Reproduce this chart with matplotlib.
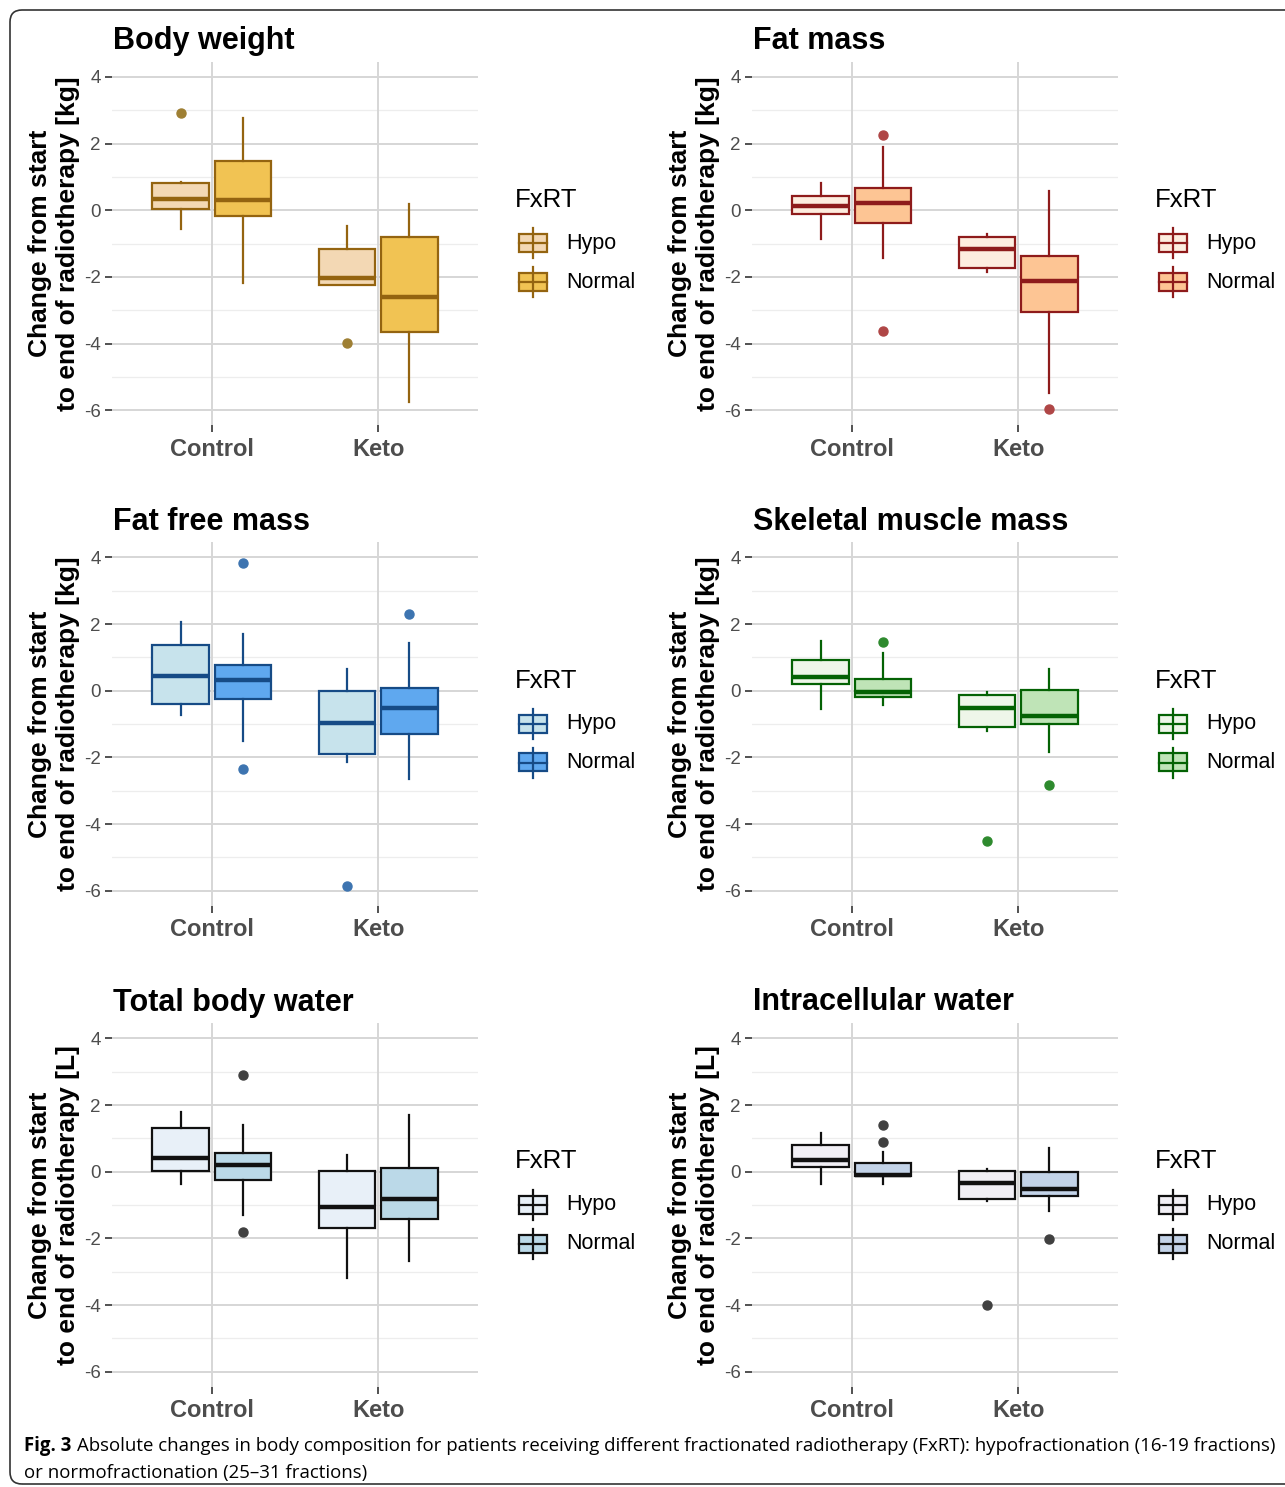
import matplotlib
matplotlib.use("Agg")
import matplotlib.pyplot as plt
from matplotlib.patches import Rectangle, FancyBboxPatch
from matplotlib.lines import Line2D
from matplotlib.transforms import IdentityTransform

plt.rcParams['font.family'] = ['Liberation Sans', 'DejaVu Sans']
plt.rcParams['axes.unicode_minus'] = False

# ---------------- data ----------------
groups = ["Control", "Keto"]
fxrt = ["Hypo", "Normal"]
# order of boxes: Control-Hypo, Control-Normal, Keto-Hypo, Keto-Normal

bw_low = [-0.55, -2.17, -2.23, -5.75]
bw_q1 = [0.03, -0.16, -2.23, -3.65]
bw_med = [0.33, 0.30, -2.04, -2.60]
bw_q3 = [0.82, 1.49, -1.16, -0.80]
bw_high = [0.85, 2.77, -0.48, 0.18]
bw_out = [[2.93], [], [-3.97], []]

fm_low = [-0.85, -1.44, -1.85, -5.47]
fm_q1 = [-0.10, -0.38, -1.74, -3.05]
fm_med = [0.13, 0.23, -1.17, -2.11]
fm_q3 = [0.42, 0.68, -0.80, -1.37]
fm_high = [0.82, 1.90, -0.70, 0.59]
fm_out = [[], [2.25, -3.63], [], [-5.95]]

ffm_low = [-0.73, -1.51, -2.15, -2.65]
ffm_q1 = [-0.40, -0.26, -1.89, -1.30]
ffm_med = [0.45, 0.32, -0.98, -0.51]
ffm_q3 = [1.37, 0.78, -0.01, 0.09]
ffm_high = [2.05, 1.70, 0.66, 1.42]
ffm_out = [[], [3.84, -2.36], [-5.86], [2.30]]

smm_low = [-0.56, -0.43, -1.20, -1.83]
smm_q1 = [0.20, -0.18, -1.08, -1.01]
smm_med = [0.42, -0.05, -0.51, -0.75]
smm_q3 = [0.91, 0.36, -0.14, 0.01]
smm_high = [1.48, 1.12, -0.05, 0.66]
smm_out = [[], [1.46], [-4.51], [-2.83]]

tbw_low = [-0.38, -1.29, -3.18, -2.68]
tbw_q1 = [0.02, -0.25, -1.68, -1.41]
tbw_med = [0.40, 0.20, -1.05, -0.82]
tbw_q3 = [1.30, 0.55, 0.02, 0.10]
tbw_high = [1.79, 1.39, 0.50, 1.69]
tbw_out = [[], [2.89, -1.80], [], []]

icw_low = [-0.38, -0.38, -0.89, -1.19]
icw_q1 = [0.14, -0.14, -0.81, -0.74]
icw_med = [0.35, -0.09, -0.35, -0.51]
icw_q3 = [0.80, 0.25, 0.02, -0.01]
icw_high = [1.17, 0.58, 0.07, 0.70]
icw_out = [[], [1.40, 0.89], [-4.00], [-2.01]]

titles = ["Body weight", "Fat mass", "Fat free mass", "Skeletal muscle mass",
          "Total body water", "Intracellular water"]
units = ["[kg]", "[kg]", "[kg]", "[kg]", "[L]", "[L]"]
yticks = [-6, -4, -2, 0, 2, 4]

caption_bold = "Fig. 3"
caption_line1 = ("Absolute changes in body composition for patients receiving different "
                 "fractionated radiotherapy (FxRT): hypofractionation (16-19 fractions)")
caption_line2 = "or normofractionation (25\u201331 fractions)"

# styles: edge, hypo fill, normal fill, outlier color
styles = [
    ("#946410", "#F3D8B4", "#F1C353", "#9E7F33"),
    ("#8E1B1B", "#FDEDDF", "#FDC594", "#AF4646"),
    ("#164B86", "#C7E3EC", "#5FA8EF", "#3D74B0"),
    ("#046204", "#EEF6E9", "#BFE4B7", "#2E8A2E"),
    ("#111111", "#E8F0F8", "#BBD9E8", "#404040"),
    ("#111111", "#F1EFF5", "#C3D3E8", "#404040"),
]

data = [
    (bw_low, bw_q1, bw_med, bw_q3, bw_high, bw_out),
    (fm_low, fm_q1, fm_med, fm_q3, fm_high, fm_out),
    (ffm_low, ffm_q1, ffm_med, ffm_q3, ffm_high, ffm_out),
    (smm_low, smm_q1, smm_med, smm_q3, smm_high, smm_out),
    (tbw_low, tbw_q1, tbw_med, tbw_q3, tbw_high, tbw_out),
    (icw_low, icw_q1, icw_med, icw_q3, icw_high, icw_out),
]

# ---------------- layout ----------------
W, H = 1285, 1487
fig = plt.figure(figsize=(W / 100, H / 100), dpi=100)

def fx(px):
    return px / W

def fy(py):
    return 1 - py / H

col_left = [112, 752]
row_top = [62, 542.5, 1023.5]
ax_w, ax_h = 366, 363.3
positions = [1 - 0.1875, 1 + 0.1875, 2 - 0.1875, 2 + 0.1875]

for i in range(6):
    r, c = divmod(i, 2)
    left = col_left[c]
    top = row_top[r]
    edge, hypo_fill, norm_fill, outc = styles[i]
    low, q1, med, q3, high, outs = data[i]

    ax = fig.add_axes([fx(left), fy(top + ax_h), fx(ax_w), ax_h / H])
    ax.set_xlim(0.4, 2.6)
    ax.set_ylim(-6.45, 4.45)
    ax.set_axisbelow(True)
    for s in ax.spines.values():
        s.set_visible(False)
    # grid
    for y in [-5, -3, -1, 1, 3]:
        ax.axhline(y, color="#EDEDED", lw=0.9, zorder=0)
    for y in yticks:
        ax.axhline(y, color="#D6D6D6", lw=1.4, zorder=0.5)
    for x in [1, 2]:
        ax.axvline(x, color="#D6D6D6", lw=1.4, zorder=0.5)

    stats = []
    for k in range(4):
        stats.append(dict(med=med[k], q1=q1[k], q3=q3[k], whislo=low[k],
                          whishi=high[k], fliers=outs[k]))
    bp = ax.bxp(stats, positions=positions, widths=0.34, patch_artist=True,
                showcaps=False, manage_ticks=False,
                boxprops=dict(edgecolor=edge, linewidth=1.6),
                whiskerprops=dict(color=edge, linewidth=1.6),
                medianprops=dict(color=edge, linewidth=3.2, solid_capstyle="butt"),
                flierprops=dict(marker="o", markerfacecolor=outc,
                                markeredgecolor=outc, markersize=6.5))
    for k, patch in enumerate(bp["boxes"]):
        patch.set_facecolor(hypo_fill if k % 2 == 0 else norm_fill)
        patch.set_zorder(2)
    for m in bp["medians"]:
        m.set_zorder(3)

    ax.set_yticks(yticks)
    ax.set_yticklabels([str(v) for v in yticks])
    ax.set_xticks([1, 2])
    ax.set_xticklabels(groups, fontweight="bold", fontsize=17, color="#4D4D4D")
    ax.tick_params(axis="y", length=5, width=1.2, color="#333333",
                   labelsize=13.5, labelcolor="#4D4D4D", pad=3)
    ax.tick_params(axis="x", length=5, width=1.2, color="#333333", pad=4)

    # title
    fig.text(fx(left + 1), fy(top - 13), titles[i], fontsize=22,
             fontweight="bold", ha="left", va="baseline")
    # y label (two lines)
    cy = top + ax_h / 2
    xoff = left - 112
    fig.text(fx(xoff + 40), fy(cy), "Change from start", rotation=90,
             fontsize=19, fontweight="bold", ha="center", va="center")
    fig.text(fx(xoff + 68), fy(cy), "to end of radiotherapy " + units[i],
             rotation=90, fontsize=19, fontweight="bold", ha="center", va="center")

    # legend
    lx = 515 + (left - 112)
    ly = 200 + (top - 62)
    fig.text(fx(lx), fy(ly), "FxRT", fontsize=18.5, ha="left", va="center")
    for j, (lab, fc) in enumerate(zip(fxrt, [hypo_fill, norm_fill])):
        cyk = ly + 43 + j * 39
        kx0 = lx + 4
        fig.add_artist(Line2D([fx(kx0 + 14), fx(kx0 + 14)],
                              [fy(cyk - 15), fy(cyk + 15)],
                              color=edge, lw=1.6, transform=fig.transFigure))
        fig.add_artist(Rectangle((fx(kx0), fy(cyk + 9)), fx(28), 18 / H,
                                 facecolor=fc, edgecolor=edge, lw=1.6,
                                 transform=fig.transFigure))
        fig.add_artist(Line2D([fx(kx0), fx(kx0 + 28)], [fy(cyk), fy(cyk)],
                              color=edge, lw=1.6, transform=fig.transFigure))
        fig.text(fx(lx + 51), fy(cyk), lab, fontsize=15.5, ha="left", va="center")

# caption (Open Sans, size fitted so line 1 spans the reference width)
cap_family = ["Open Sans", "DejaVu Sans"]
renderer = fig.canvas.get_renderer()
base = 12.0
t_bold = fig.text(fx(24), fy(1451), caption_bold, fontsize=base, fontweight="bold",
                  family=cap_family, ha="left", va="baseline")
t1 = fig.text(fx(85), fy(1451), caption_line1, fontsize=base, family=cap_family,
              ha="left", va="baseline")
wb = t_bold.get_window_extent(renderer).width
w1 = t1.get_window_extent(renderer).width
gap = 0.3 * base * 100 / 72
k = (1268 - 24) / (wb + gap + w1)
size = base * k
t_bold.set_fontsize(size)
t1.set_fontsize(size)
t1.set_x(fx(24 + (wb + gap) * k))
fig.text(fx(24), fy(1478), caption_line2, fontsize=size, family=cap_family,
         ha="left", va="baseline")

# border
fig.patches.append(FancyBboxPatch((10, H - 1484), 1300, 1474,
                                  boxstyle="round,pad=0,rounding_size=12",
                                  facecolor="none", edgecolor="#333333", lw=1.2,
                                  transform=IdentityTransform(), figure=fig))

fig.savefig("out.png", dpi=100)
